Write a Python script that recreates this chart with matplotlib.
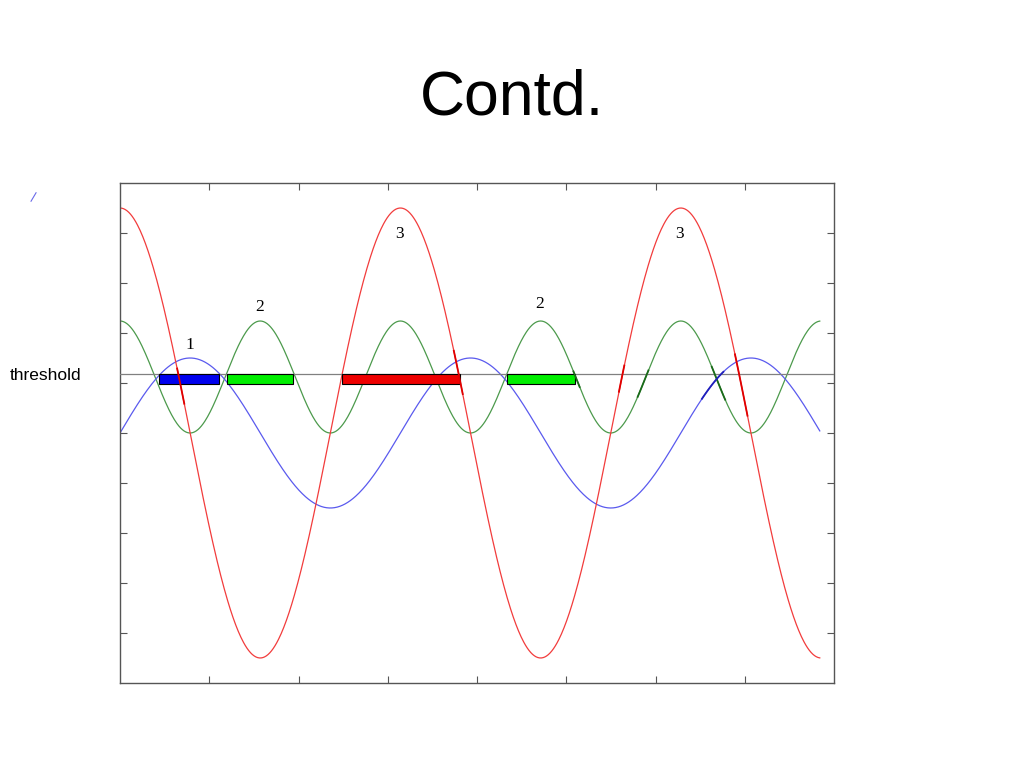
import numpy as np
import matplotlib
matplotlib.use("Agg")
import matplotlib.pyplot as plt

# curve parameters (axis: x 0..8, y 0..10)
t_end = 7.84
red_mid, red_amp = 5.0, 4.5      # cos(2t)
blue_mid, blue_amp = 5.0, 1.5    # sin(2t)
green_mid, green_amp = 6.12, 1.12  # cos(4t)
threshold = 6.18

# bars sitting under the threshold
bar_start = [0.44, 1.20, 2.49, 4.34]
bar_end = [1.11, 1.94, 3.81, 5.10]
bar_colors = ["#0000ee", "#00ee00", "#ee0000", "#00ee00"]
bar_bottom = 5.98

# numbers over the peaks
label_text = ["1", "2", "3", "2", "3"]
label_x = [0.78, 1.56, 3.13, 4.70, 6.27]
label_y = [6.76, 7.52, 8.98, 7.58, 8.98]

# darker pieces where curves cross the threshold
hl_curve = ["red", "red", "red", "red", "green", "green", "green", "blue"]
hl_t0 = [0.64, 3.74, 5.59, 6.89, 5.08, 5.80, 6.63, 6.52]
hl_t1 = [0.72, 3.84, 5.65, 7.03, 5.15, 5.92, 6.78, 6.76]


def red(t):
  return red_mid + red_amp * np.cos(2 * t)

def blue(t):
  return blue_mid + blue_amp * np.sin(2 * t)

def green(t):
  return green_mid + green_amp * np.cos(4 * t)


curves = {"red": (red, "#f23c3c", "#e00000"),
          "green": (green, "#4c9a4c", "#1a6a1a"),
          "blue": (blue, "#5a5aee", "#2020bb")}

fig = plt.figure(figsize=(10.24, 7.68), dpi=100)
fig.text(0.5, 0.872, "Contd.", ha="center", va="center",
         fontsize=45, family="Liberation Sans")
fig.text(0.01, 0.511, "threshold", ha="left", va="center",
         fontsize=12.5, family="Liberation Sans")
fig.add_artist(plt.Line2D([0.0303, 0.0352], [0.738, 0.749],
                          color="#6a6ae8", lw=0.8))

ax = fig.add_axes([0.1172, 0.1107, 0.6973, 0.651])
t = np.linspace(0, t_end, 800)
for name in ["green", "blue", "red"]:
  f, c, _ = curves[name]
  ax.plot(t, f(t), color=c, lw=0.9, zorder=2)

ax.axhline(threshold, color="#808080", lw=0.9, zorder=3)

for x0, x1, c in zip(bar_start, bar_end, bar_colors):
  ax.bar(x0, threshold - bar_bottom, width=x1 - x0, bottom=bar_bottom,
         align="edge", color=c, edgecolor="black", lw=0.8, zorder=4)

for name, a, b in zip(hl_curve, hl_t0, hl_t1):
  f, _, dc = curves[name]
  tt = np.linspace(a, b, 20)
  ax.plot(tt, f(tt), color=dc, lw=1.3, zorder=5)

for s, x, y in zip(label_text, label_x, label_y):
  ax.text(x, y, s, ha="center", va="center", fontsize=12.5,
          family="Liberation Serif", zorder=6)

ax.set_xlim(0, 8)
ax.set_ylim(0, 10)
ax.set_xticks(range(1, 8))
ax.set_yticks(range(1, 10))
ax.tick_params(direction="in", top=True, right=True, length=5,
               color="#555555", labelbottom=False, labelleft=False)
for sp in ax.spines.values():
  sp.set_color("#555555")
  sp.set_linewidth(1.0)

plt.savefig("out.png", dpi=100)
